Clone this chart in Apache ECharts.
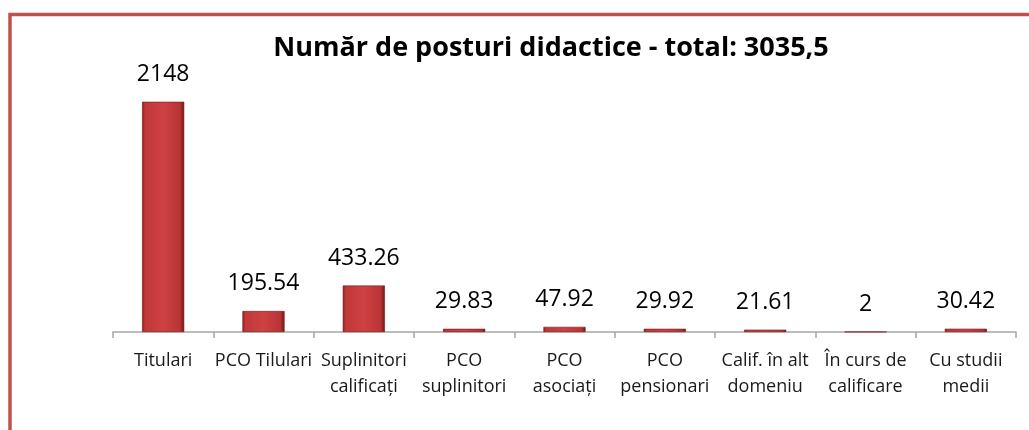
<!DOCTYPE html>
<html>
<head>
<meta charset="utf-8">
<script src="https://cdn.jsdelivr.net/npm/echarts@6/dist/echarts.min.js"></script>
<style>
html,body{margin:0;padding:0;background:#fff;}
#c{width:1029px;height:430px;}
</style>
</head>
<body>
<div id="c"></div>
<script>
const titleText = 'Număr de posturi didactice - total: 3035,5';
const categories = ['Titulari', 'PCO Tilulari', 'Suplinitori\ncalificați', 'PCO\nsuplinitori', 'PCO\nasociați', 'PCO\npensionari', 'Calif. în alt\ndomeniu', 'În curs de\ncalificare', 'Cu studii\nmedii'];
const values = [2148, 195.54, 433.26, 29.83, 47.92, 29.92, 21.61, 2, 30.42];

const chart = echarts.init(document.getElementById('c'), null, {renderer: 'canvas'});
const barGrad = new echarts.graphic.LinearGradient(0, 0, 1, 0, [
  {offset: 0, color: '#8a1f1d'},
  {offset: 0.07, color: '#c03838'},
  {offset: 0.5, color: '#cf4143'},
  {offset: 0.9, color: '#b93435'},
  {offset: 1, color: '#6e1614'}
]);
chart.setOption({
  animation: false,
  backgroundColor: '#ffffff',
  title: {
    text: titleText,
    left: 546, textAlign: 'center', top: 30,
    textStyle: {fontFamily: 'Open Sans', fontWeight: 'bold', fontSize: 27, color: '#000'}
  },
  graphic: [{
    type: 'rect', shape: {x: 10, y: 14.5, width: 1040, height: 440},
    style: {fill: null, stroke: '#c0504d', lineWidth: 3.5}, silent: true, z: 100
  }],
  grid: {left: 113, right: 13, top: 64, bottom: 98},
  xAxis: {
    type: 'category', data: categories,
    axisLine: {lineStyle: {color: '#a6a6a6', width: 1.5}},
    axisTick: {show: true, alignWithLabel: false, length: 6, lineStyle: {color: '#a6a6a6', width: 1.5}},
    axisLabel: {interval: 0, margin: 16, fontFamily: 'Open Sans', fontSize: 18, color: '#1a1a1a', lineHeight: 26, verticalAlign: 'top'}
  },
  yAxis: {type: 'value', min: 0, max: 2500, show: false, splitLine: {show: false}},
  series: [{
    type: 'bar', data: values, barWidth: '42%',
    itemStyle: {color: barGrad, borderColor: '#7a1a18', borderWidth: 0.6},
    label: {show: true, position: 'top', distance: 16, fontFamily: 'Open Sans', fontSize: 23, color: '#000'}
  }]
});
</script>
</body>
</html>
